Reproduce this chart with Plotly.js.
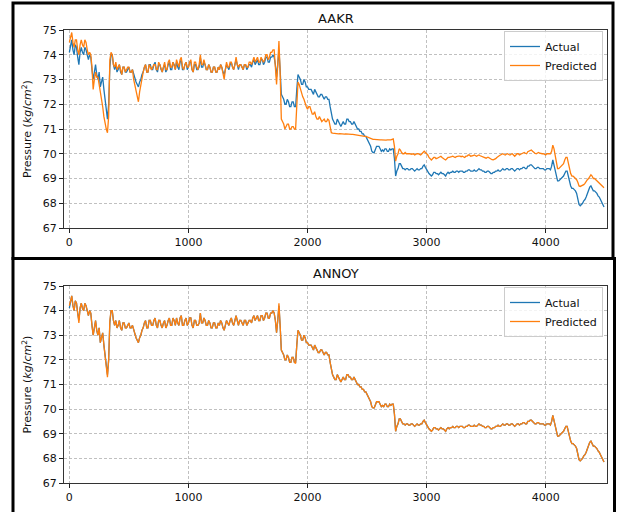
<!DOCTYPE html>
<html>
<head>
<meta charset="utf-8">
<script src="https://cdn.plot.ly/plotly-3.0.1.min.js"></script>
<style>html,body{margin:0;padding:0;background:#fff;}#chart{width:620px;height:512px;}</style>
</head>
<body>
<div id="chart"></div>
<script>
// sample step along the x axis (index units)
const STEP = 10;

// Actual pressure (shared by both panels), one row per 100 index units
const actual = [
74.1, 74.3, 74.6, 74.2, 74.0, 74.4, 74.3, 73.9, 73.6, 74.1,
74.3, 74.1, 74.0, 74.3, 74.2, 74.0, 73.8, 74.0, 73.9, 73.4,
73.0, 73.3, 73.6, 73.2, 73.0, 73.3, 72.7, 72.9, 73.1, 72.6,
72.2, 71.8, 71.4, 72.0, 73.5, 74.0, 74.0, 73.6, 73.4, 73.6,
73.3, 73.4, 73.6, 73.3, 73.2, 73.5, 73.5, 73.3, 73.3, 73.4,
73.5, 73.3, 73.3, 73.4, 73.2, 73.0, 72.9, 72.8, 72.7, 72.9,
73.0, 73.2, 73.3, 73.5, 73.6, 73.3, 73.3, 73.6, 73.6, 73.4,
73.4, 73.6, 73.7, 73.4, 73.3, 73.6, 73.6, 73.4, 73.3, 73.5,
73.6, 73.3, 73.4, 73.6, 73.7, 73.4, 73.4, 73.7, 73.6, 73.4,
73.7, 73.5, 73.4, 73.7, 73.8, 73.4, 73.4, 73.6, 73.7, 73.4,
73.5, 73.7, 73.7, 73.4, 73.3, 73.6, 73.6, 73.4, 73.4, 73.5,
73.9, 73.5, 73.5, 73.7, 73.6, 73.4, 73.4, 73.6, 73.5, 73.3,
73.3, 73.5, 73.5, 73.3, 73.3, 73.5, 73.4, 73.6, 73.5, 73.3,
73.2, 73.4, 73.6, 73.5, 73.4, 73.6, 73.7, 73.5, 73.4, 73.6,
73.8, 73.6, 73.4, 73.6, 73.6, 73.5, 73.4, 73.6, 73.6, 73.4,
73.5, 73.6, 73.6, 73.5, 73.7, 73.8, 73.6, 73.7, 73.8, 73.6,
73.6, 73.8, 73.8, 73.6, 73.7, 73.9, 73.9, 73.7, 73.7, 73.9,
73.9, 74.0, 73.9, 73.6, 73.1, 73.6, 74.2, 73.4, 72.4, 72.3,
72.2, 72.0, 72.0, 72.2, 72.1, 71.9, 71.9, 72.1, 72.1, 71.9,
71.9, 72.6, 73.2, 73.1, 73.0, 72.8, 72.8, 73.0, 72.9, 72.7,
72.7, 72.6, 72.6, 72.6, 72.5, 72.4, 72.6, 72.5, 72.4, 72.3,
72.3, 72.4, 72.4, 72.3, 72.2, 72.3, 72.3, 72.2, 72.2, 71.9,
71.6, 71.4, 71.3, 71.2, 71.2, 71.4, 71.3, 71.2, 71.1, 71.2,
71.3, 71.2, 71.2, 71.4, 71.4, 71.3, 71.3, 71.2, 71.2, 71.3,
71.2, 71.1, 71.0, 71.0, 70.9, 70.9, 70.8, 70.8, 70.7, 70.7,
70.6, 70.5, 70.4, 70.3, 70.1, 70.05, 70.05, 70.2, 70.3, 70.3,
70.3, 70.2, 70.1, 70.15, 70.1, 70.2, 70.2, 70.1, 70.1, 70.2,
70.15, 70.2, 70.2, 69.8, 69.1, 69.3, 69.4, 69.6, 69.6, 69.5,
69.4, 69.4, 69.35, 69.4, 69.4, 69.35, 69.35, 69.4, 69.4, 69.35,
69.3, 69.35, 69.4, 69.35, 69.35, 69.4, 69.4, 69.5, 69.55, 69.45,
69.35, 69.3, 69.2, 69.15, 69.1, 69.15, 69.25, 69.25, 69.2, 69.2,
69.15, 69.2, 69.25, 69.2, 69.2, 69.15, 69.1, 69.2, 69.25, 69.2,
69.25, 69.25, 69.3, 69.25, 69.25, 69.3, 69.3, 69.25, 69.3, 69.3,
69.3, 69.25, 69.25, 69.3, 69.3, 69.35, 69.35, 69.3, 69.3, 69.3,
69.35, 69.3, 69.3, 69.35, 69.4, 69.35, 69.35, 69.3, 69.3, 69.25,
69.25, 69.3, 69.3, 69.25, 69.2, 69.2, 69.25, 69.25, 69.3, 69.3,
69.35, 69.3, 69.3, 69.35, 69.4, 69.35, 69.35, 69.4, 69.4, 69.35,
69.35, 69.4, 69.4, 69.35, 69.3, 69.35, 69.4, 69.4, 69.35, 69.4,
69.4, 69.45, 69.45, 69.4, 69.4, 69.5, 69.5, 69.55, 69.55, 69.5,
69.45, 69.4, 69.4, 69.45, 69.45, 69.4, 69.4, 69.4, 69.4, 69.35,
69.35, 69.4, 69.4, 69.4, 69.35, 69.5, 69.75, 69.5, 69.3, 69.1,
68.9, 68.9, 68.95, 69.0, 69.05, 69.1, 69.2, 69.3, 69.3, 69.05,
68.8, 68.7, 68.6, 68.6, 68.55, 68.5, 68.4, 68.2, 67.95, 67.9,
67.95, 68.0, 68.1, 68.15, 68.25, 68.4, 68.5, 68.65, 68.7, 68.6,
68.5, 68.5, 68.45, 68.4, 68.3, 68.25, 68.15, 68.05, 67.9, 67.85
];

// AAKR predicted pressure
const aakrPred = [
74.5, 74.7, 74.9, 74.5, 74.3, 74.6, 74.6, 74.2, 74.0, 74.4,
74.6, 74.4, 74.3, 74.6, 74.5, 74.2, 74.0, 74.1, 74.0, 73.5,
72.6, 73.0, 73.3, 73.1, 73.1, 72.8, 72.5, 72.3, 71.9, 71.5,
71.2, 71.0, 70.85, 71.5, 73.8, 74.1, 74.0, 73.6, 73.5, 73.7,
73.4, 73.5, 73.6, 73.4, 73.2, 73.5, 73.5, 73.3, 73.4, 73.5,
73.5, 73.3, 73.3, 73.4, 73.0, 72.8, 72.6, 72.3, 72.1, 72.5,
72.8, 73.1, 73.3, 73.5, 73.6, 73.3, 73.3, 73.6, 73.5, 73.4,
73.5, 73.6, 73.6, 73.4, 73.4, 73.7, 73.6, 73.4, 73.3, 73.5,
73.7, 73.4, 73.4, 73.7, 73.8, 73.5, 73.5, 73.7, 73.5, 73.4,
73.8, 73.6, 73.5, 73.8, 73.9, 73.5, 73.4, 73.6, 73.7, 73.5,
73.5, 73.7, 73.8, 73.4, 73.3, 73.7, 73.7, 73.5, 73.4, 73.6,
74.0, 73.6, 73.6, 73.8, 73.6, 73.4, 73.4, 73.6, 73.5, 73.3,
73.3, 73.5, 73.5, 73.3, 73.3, 73.5, 73.4, 73.6, 73.5, 73.2,
73.0, 73.4, 73.7, 73.5, 73.5, 73.7, 73.7, 73.5, 73.4, 73.6,
73.9, 73.6, 73.5, 73.6, 73.6, 73.5, 73.4, 73.6, 73.6, 73.5,
73.5, 73.7, 73.7, 73.6, 73.8, 73.9, 73.7, 73.8, 73.9, 73.7,
73.7, 73.9, 73.8, 73.7, 73.8, 74.0, 74.0, 73.8, 73.9, 74.1,
74.1, 74.2, 74.2, 73.6, 72.8, 73.6, 74.55, 73.3, 71.4, 71.3,
71.2, 71.0, 71.1, 71.2, 71.2, 71.0, 71.0, 71.1, 71.1, 71.0,
71.0, 71.9, 72.9, 72.8, 72.6, 72.4, 72.3, 72.2, 72.0, 71.9,
71.8, 71.9, 71.9, 71.7, 71.6, 71.6, 71.7, 71.5, 71.4, 71.4,
71.5, 71.4, 71.3, 71.35, 71.4, 71.3, 71.3, 71.4, 71.35, 71.1,
70.85, 70.83, 70.82, 70.81, 70.8, 70.8, 70.8, 70.81, 70.8, 70.79,
70.8, 70.79, 70.8, 70.79, 70.79, 70.78, 70.78, 70.78, 70.78, 70.77,
70.77, 70.77, 70.76, 70.76, 70.75, 70.74, 70.72, 70.71, 70.7, 70.7,
70.68, 70.66, 70.62, 70.6, 70.6, 70.58, 70.58, 70.57, 70.56, 70.56,
70.55, 70.56, 70.56, 70.55, 70.55, 70.56, 70.55, 70.56, 70.55, 70.55,
70.56, 70.58, 70.6, 70.3, 69.7, 69.9, 70.0, 70.2, 70.15, 70.05,
70.0, 70.0, 70.05, 70.0, 70.0, 70.02, 70.0, 69.98, 70.0, 70.0,
69.95, 69.98, 70.0, 70.0, 69.98, 69.95, 70.0, 70.05, 70.1, 70.05,
70.0, 69.95, 69.85, 69.8, 69.75, 69.8, 69.85, 69.85, 69.8, 69.82,
69.85, 69.88, 69.9, 69.85, 69.8, 69.78, 69.75, 69.8, 69.85, 69.85,
69.85, 69.88, 69.9, 69.88, 69.85, 69.88, 69.9, 69.9, 69.9, 69.88,
69.9, 69.88, 69.85, 69.9, 69.9, 69.95, 69.95, 69.9, 69.9, 69.92,
69.95, 69.92, 69.9, 69.93, 69.95, 69.92, 69.9, 69.88, 69.85, 69.83,
69.82, 69.85, 69.85, 69.82, 69.78, 69.76, 69.75, 69.77, 69.8, 69.85,
69.9, 69.92, 69.95, 69.98, 70.0, 69.97, 69.95, 69.98, 70.0, 69.97,
69.95, 69.98, 70.0, 69.95, 69.9, 69.95, 70.0, 70.0, 69.95, 69.98,
70.0, 70.02, 70.05, 70.02, 70.0, 70.08, 70.1, 70.15, 70.15, 70.1,
70.05, 70.02, 70.0, 70.03, 70.05, 70.02, 70.0, 70.0, 70.0, 69.98,
69.95, 70.0, 70.0, 70.0, 70.0, 70.1, 70.35, 70.2, 69.9, 69.6,
69.4, 69.4, 69.45, 69.5, 69.55, 69.6, 69.75, 69.85, 69.85, 69.6,
69.3, 69.2, 69.1, 69.1, 69.05, 69.0, 68.95, 68.85, 68.7, 68.68,
68.7, 68.7, 68.75, 68.8, 68.9, 68.95, 69.0, 69.1, 69.15, 69.1,
69.0, 69.0, 68.95, 68.9, 68.85, 68.8, 68.75, 68.7, 68.65, 68.63
];

// ANNOY predicted pressure
const annoyPred = [
74.2, 74.4, 74.6, 74.2, 74.0, 74.4, 74.3, 73.9, 73.5, 74.1,
74.3, 74.1, 74.0, 74.3, 74.2, 74.0, 73.8, 74.0, 73.9, 73.4,
73.0, 73.3, 73.6, 73.2, 73.0, 73.3, 72.7, 72.9, 73.1, 72.6,
72.1, 71.7, 71.3, 72.0, 73.6, 74.0, 74.0, 73.6, 73.4, 73.6,
73.3, 73.4, 73.6, 73.3, 73.2, 73.5, 73.5, 73.3, 73.3, 73.4,
73.5, 73.3, 73.3, 73.4, 73.2, 73.0, 72.9, 72.8, 72.7, 72.9,
73.0, 73.2, 73.3, 73.5, 73.6, 73.3, 73.3, 73.6, 73.6, 73.4,
73.4, 73.6, 73.7, 73.4, 73.3, 73.6, 73.6, 73.4, 73.3, 73.5,
73.6, 73.3, 73.4, 73.6, 73.7, 73.4, 73.4, 73.7, 73.6, 73.4,
73.7, 73.5, 73.4, 73.7, 73.8, 73.4, 73.4, 73.6, 73.7, 73.4,
73.5, 73.7, 73.7, 73.4, 73.3, 73.6, 73.6, 73.4, 73.4, 73.5,
73.9, 73.5, 73.5, 73.7, 73.6, 73.4, 73.4, 73.6, 73.5, 73.3,
73.3, 73.5, 73.5, 73.3, 73.3, 73.5, 73.4, 73.6, 73.5, 73.3,
73.2, 73.4, 73.6, 73.5, 73.4, 73.6, 73.7, 73.5, 73.4, 73.6,
73.8, 73.6, 73.4, 73.6, 73.6, 73.5, 73.4, 73.6, 73.6, 73.4,
73.5, 73.6, 73.6, 73.5, 73.7, 73.8, 73.6, 73.7, 73.8, 73.6,
73.6, 73.8, 73.8, 73.6, 73.7, 73.9, 73.9, 73.7, 73.7, 73.9,
73.9, 74.0, 73.9, 73.6, 73.1, 73.6, 74.3, 73.4, 72.4, 72.3,
72.2, 72.0, 72.0, 72.2, 72.1, 71.9, 71.9, 72.1, 72.1, 71.9,
71.85, 72.6, 73.2, 73.1, 73.0, 72.8, 72.8, 73.0, 72.9, 72.7,
72.7, 72.6, 72.6, 72.6, 72.5, 72.4, 72.6, 72.5, 72.4, 72.3,
72.3, 72.4, 72.4, 72.3, 72.2, 72.3, 72.3, 72.2, 72.2, 71.9,
71.6, 71.4, 71.3, 71.2, 71.2, 71.4, 71.3, 71.2, 71.1, 71.2,
71.3, 71.2, 71.2, 71.4, 71.4, 71.3, 71.3, 71.2, 71.2, 71.3,
71.2, 71.1, 71.0, 71.0, 70.9, 70.9, 70.8, 70.8, 70.7, 70.7,
70.6, 70.5, 70.4, 70.3, 70.1, 70.05, 70.05, 70.2, 70.3, 70.3,
70.3, 70.2, 70.1, 70.15, 70.1, 70.2, 70.2, 70.1, 70.1, 70.2,
70.15, 70.2, 70.2, 69.8, 69.1, 69.3, 69.4, 69.6, 69.6, 69.5,
69.4, 69.4, 69.35, 69.4, 69.4, 69.35, 69.35, 69.4, 69.4, 69.35,
69.3, 69.35, 69.4, 69.35, 69.35, 69.4, 69.4, 69.5, 69.55, 69.45,
69.35, 69.3, 69.2, 69.15, 69.1, 69.15, 69.25, 69.25, 69.2, 69.2,
69.15, 69.2, 69.25, 69.2, 69.2, 69.15, 69.1, 69.2, 69.25, 69.2,
69.25, 69.25, 69.3, 69.25, 69.25, 69.3, 69.3, 69.25, 69.3, 69.3,
69.3, 69.25, 69.25, 69.3, 69.3, 69.35, 69.35, 69.3, 69.3, 69.3,
69.35, 69.3, 69.3, 69.35, 69.4, 69.35, 69.35, 69.3, 69.3, 69.25,
69.25, 69.3, 69.3, 69.25, 69.2, 69.2, 69.25, 69.25, 69.3, 69.3,
69.35, 69.3, 69.3, 69.35, 69.4, 69.35, 69.35, 69.4, 69.4, 69.35,
69.35, 69.4, 69.4, 69.35, 69.3, 69.35, 69.4, 69.4, 69.35, 69.4,
69.4, 69.45, 69.45, 69.4, 69.4, 69.5, 69.5, 69.55, 69.55, 69.5,
69.45, 69.4, 69.4, 69.45, 69.45, 69.4, 69.4, 69.4, 69.4, 69.35,
69.35, 69.4, 69.4, 69.4, 69.35, 69.5, 69.75, 69.5, 69.3, 69.1,
68.9, 68.9, 68.95, 69.0, 69.05, 69.1, 69.2, 69.3, 69.3, 69.05,
68.8, 68.7, 68.6, 68.6, 68.55, 68.5, 68.4, 68.2, 67.95, 67.9,
67.95, 68.0, 68.1, 68.15, 68.25, 68.4, 68.5, 68.65, 68.7, 68.6,
68.5, 68.5, 68.45, 68.4, 68.3, 68.25, 68.15, 68.05, 67.9, 67.85
];

const panelTitles = ["AAKR", "ANNOY"];
const seriesNames = ["Actual", "Predicted"];
const xTicks = [0, 1000, 2000, 3000, 4000];
const yTicks = [67, 68, 69, 70, 71, 72, 73, 74, 75];

const xIdx = actual.map((_, i) => i * STEP);

const BLUE = "#1f77b4", ORANGE = "#ff7f0e";
const FONT = "DejaVu Sans, sans-serif";
const W = 620, H = 512;

function trace(y, name, color, xa, ya, leg) {
  return {x: xIdx, y: y, name: name, type: "scatter", mode: "lines",
    line: {color: color, width: 1.3}, xaxis: xa, yaxis: ya, legend: leg};
}

const data = [
  trace(actual, seriesNames[0], BLUE, "x", "y", "legend"),
  trace(aakrPred, seriesNames[1], ORANGE, "x", "y", "legend"),
  trace(actual, seriesNames[0], BLUE, "x2", "y2", "legend2"),
  trace(annoyPred, seriesNames[1], ORANGE, "x2", "y2", "legend2")
];

function xaxis(dom, anchor) {
  return {domain: dom, anchor: anchor, range: [-45, 4515], tickvals: xTicks,
    ticks: "outside", ticklen: 4, tickcolor: "#222", showline: true, mirror: true,
    linecolor: "#333", linewidth: 1, showgrid: true, gridcolor: "#b0b0b0",
    griddash: "3px,2px", gridwidth: 0.8, zeroline: false,
    tickfont: {family: FONT, size: 11, color: "#111"}};
}
function yaxis(dom, anchor) {
  return {domain: dom, anchor: anchor, range: [67, 75], tickvals: yTicks,
    ticks: "outside", ticklen: 4, tickcolor: "#222", showline: true, mirror: true,
    linecolor: "#333", linewidth: 1, showgrid: true, gridcolor: "#b0b0b0",
    griddash: "3px,2px", gridwidth: 0.8, zeroline: false,
    tickfont: {family: FONT, size: 11, color: "#111"},
    title: {text: "Pressure (<i>kg</i>/<i>cm</i><sup>2</sup>)", font: {family: FONT, size: 11, color: "#111"}, standoff: 8}};
}

const legendStyle = (ytop) => ({x: 603 / W, xanchor: "right", y: ytop, yanchor: "top",
  bgcolor: "rgba(255,255,255,0.8)", bordercolor: "#cccccc", borderwidth: 1,
  font: {family: FONT, size: 11, color: "#111"}, tracegroupgap: 0, itemwidth: 30});

const layout = {
  width: W, height: H,
  margin: {l: 0, r: 0, t: 0, b: 0},
  paper_bgcolor: "#fff", plot_bgcolor: "#fff",
  showlegend: true,
  xaxis: xaxis([64 / W, 607 / W], "y"),
  yaxis: yaxis([(H - 228) / H, (H - 30) / H], "x"),
  xaxis2: xaxis([64 / W, 607 / W], "y2"),
  yaxis2: yaxis([(H - 483) / H, (H - 286) / H], "x2"),
  legend: legendStyle((H - 31) / H),
  legend2: legendStyle((H - 287) / H),
  annotations: [
    {text: panelTitles[0], xref: "paper", yref: "paper", x: 335.5 / W, y: (H - 18) / H,
     xanchor: "center", yanchor: "middle", showarrow: false, font: {family: FONT, size: 13, color: "#111"}},
    {text: panelTitles[1], xref: "paper", yref: "paper", x: 335.5 / W, y: (H - 273) / H,
     xanchor: "center", yanchor: "middle", showarrow: false, font: {family: FONT, size: 13, color: "#111"}}
  ],
  shapes: [
    {type: "rect", xref: "paper", yref: "paper", x0: 13 / W, x1: 613 / W, y0: (H - 258.5) / H, y1: (H - 3) / H,
     line: {color: "#000", width: 3}, fillcolor: "rgba(0,0,0,0)"},
    {type: "rect", xref: "paper", yref: "paper", x0: 13 / W, x1: 614.5 / W, y0: -0.02, y1: (H - 258.5) / H,
     line: {color: "#000", width: 3}, fillcolor: "rgba(0,0,0,0)"}
  ]
};

Plotly.newPlot("chart", data, layout, {staticPlot: true, displayModeBar: false});
</script>
</body>
</html>
